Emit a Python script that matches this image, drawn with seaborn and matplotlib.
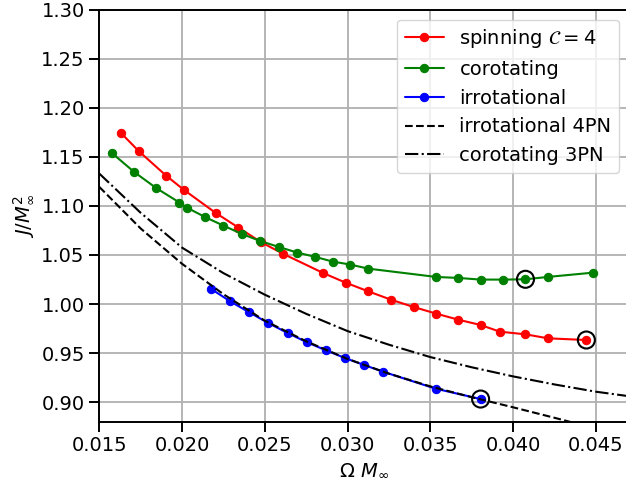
import numpy as np
import pandas as pd
import matplotlib
matplotlib.use("Agg")
import matplotlib.pyplot as plt
import seaborn as sns

# ---- data ----
spin_x = [0.01632, 0.01739, 0.01903, 0.02012, 0.02203, 0.02340, 0.02475, 0.02608,
          0.02853, 0.02988, 0.03124, 0.03261, 0.03400, 0.03536, 0.03667, 0.03804,
          0.03920, 0.04075, 0.04212, 0.04443]
spin_y = [1.1742, 1.1558, 1.1310, 1.1163, 1.0929, 1.0780, 1.0633, 1.0514,
          1.0316, 1.0218, 1.0130, 1.0045, 0.9969, 0.9902, 0.9841, 0.9786,
          0.9718, 0.9691, 0.9650, 0.9633]

corot_x = [0.01575, 0.01710, 0.01845, 0.01984, 0.02028, 0.02141, 0.02249, 0.02362,
           0.02472, 0.02584, 0.02695, 0.02806, 0.02910, 0.03017, 0.03124, 0.03536,
           0.03668, 0.03804, 0.03939, 0.04075, 0.04210, 0.04484]
corot_y = [1.1541, 1.1347, 1.1181, 1.1035, 1.0984, 1.0885, 1.0800, 1.0714,
           1.0643, 1.0582, 1.0525, 1.0480, 1.0433, 1.0402, 1.0361, 1.0276,
           1.0266, 1.0249, 1.0249, 1.0252, 1.0276, 1.0320]

irrot_x = [0.02173, 0.02290, 0.02406, 0.02521, 0.02638, 0.02752, 0.02869, 0.02985,
           0.03100, 0.03214, 0.03532, 0.03804]
irrot_y = [1.0157, 1.0028, 0.9915, 0.9806, 0.9704, 0.9612, 0.9528, 0.9449,
           0.9378, 0.9310, 0.9137, 0.9031]

pn4_x = [0.0150, 0.0175, 0.0200, 0.0225, 0.0250, 0.0275, 0.0300, 0.0325,
         0.0350, 0.0375, 0.0400, 0.0425, 0.0450, 0.0470]
pn4_y = [1.1194, 1.0770, 1.0410, 1.0100, 0.9830, 0.9620, 0.9440, 0.9290,
         0.9160, 0.9050, 0.8947, 0.8840, 0.8730, 0.8660]

pn3_x = [0.0150, 0.0175, 0.0200, 0.0225, 0.0250, 0.0275, 0.0300, 0.0325,
         0.0350, 0.0375, 0.0400, 0.0425, 0.0450, 0.0470]
pn3_y = [1.1330, 1.0930, 1.0575, 1.0315, 1.0095, 0.9900, 0.9724, 0.9585,
         0.9459, 0.9355, 0.9262, 0.9180, 0.9106, 0.9060]

# circled end points
circ_x = [0.04443, 0.04075, 0.03804]
circ_y = [0.9633, 1.0252, 0.9031]

xticks = [0.015, 0.020, 0.025, 0.030, 0.035, 0.040, 0.045]
yticks = [0.90, 0.95, 1.00, 1.05, 1.10, 1.15, 1.20, 1.25, 1.30]

sns.set_theme(style="ticks", rc={
    "axes.linewidth": 1.4,
    "xtick.major.size": 7, "ytick.major.size": 7,
    "xtick.major.width": 1.4, "ytick.major.width": 1.4,
    "xtick.labelsize": 14, "ytick.labelsize": 14,
    "axes.labelsize": 14, "legend.fontsize": 14,
    "axes.edgecolor": "black",
    "xtick.color": "black", "ytick.color": "black",
    "text.color": "black", "axes.labelcolor": "black",
    "mathtext.fontset": "dejavusans",
})
plt.rcParams["font.family"] = ["DejaVu Sans"]

fig = plt.figure(figsize=(6.26, 4.87), dpi=100)
ax = fig.add_axes([99.3 / 626, (487 - 421.7) / 487, 529.6 / 626, 411.9 / 487])

ax.grid(True, color="#b0b0b0", linewidth=1.3, zorder=0)
ax.set_axisbelow(True)

mk = dict(marker="o", markersize=6, linewidth=1.5, sort=False, estimator=None)
sns.lineplot(x=spin_x, y=spin_y, color="red", markeredgecolor="red",
             label=r"spinning $\mathcal{C}=4$", ax=ax, **mk)
sns.lineplot(x=corot_x, y=corot_y, color="green", markeredgecolor="green",
             label="corotating", ax=ax, **mk)
sns.lineplot(x=irrot_x, y=irrot_y, color="blue", markeredgecolor="blue",
             label="irrotational", ax=ax, **mk)
sns.lineplot(x=pn4_x, y=pn4_y, color="black", linestyle="--", linewidth=1.5,
             sort=False, estimator=None, label="irrotational 4PN", ax=ax)
sns.lineplot(x=pn3_x, y=pn3_y, color="black", linestyle="-.", linewidth=1.5,
             sort=False, estimator=None, label="corotating 3PN", ax=ax)
sns.scatterplot(x=circ_x, y=circ_y, s=150, facecolor="none", edgecolor="black",
                linewidth=1.5, ax=ax, zorder=5, legend=False)

ax.set_xlim(0.015, 0.047)
ax.set_ylim(0.88, 1.30)
ax.set_xticks(xticks)
ax.set_yticks(yticks)
ax.set_xticklabels([f"{v:.3f}" for v in xticks])
ax.set_yticklabels([f"{v:.2f}" for v in yticks])
ax.set_xlabel(r"$\Omega\ M_\infty$")
ax.set_ylabel(r"$J/M_\infty^2$")

leg = ax.legend(loc="upper right", frameon=True, fancybox=True, framealpha=0.8,
                edgecolor="#cccccc")

fig.savefig("out.png", dpi=100)
